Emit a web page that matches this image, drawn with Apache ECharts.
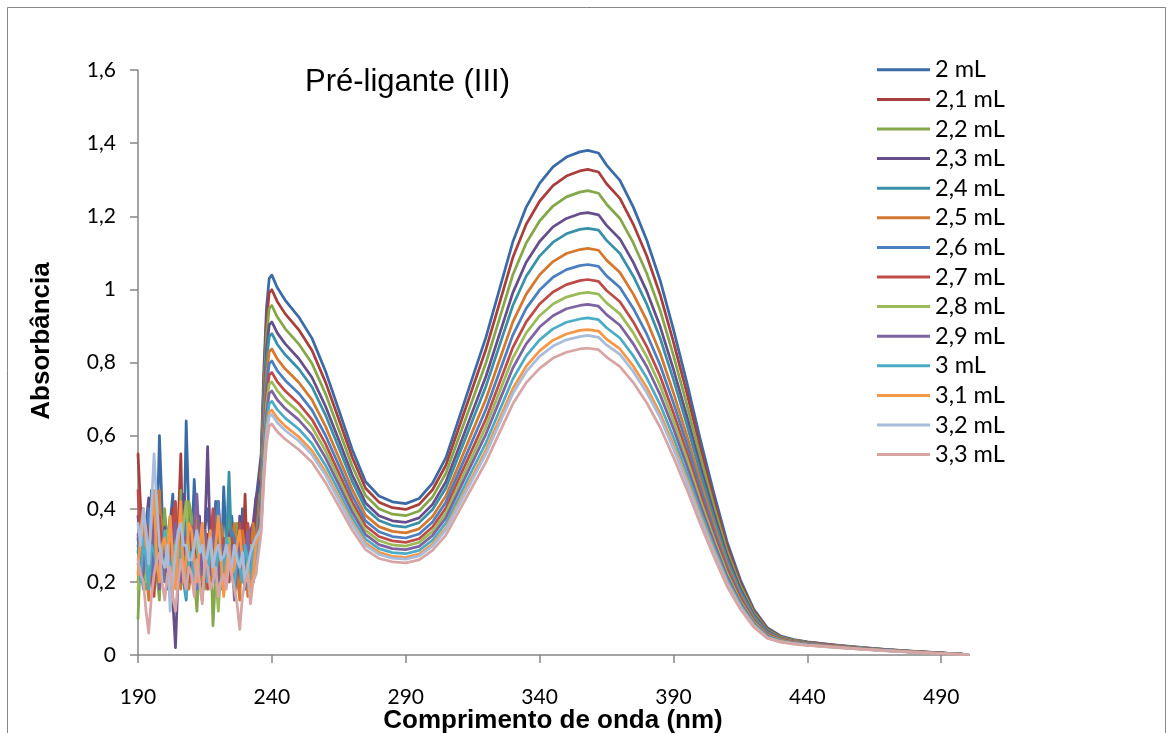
<!DOCTYPE html>
<html>
<head>
<meta charset="utf-8">
<script src="https://cdn.jsdelivr.net/npm/echarts@6/dist/echarts.min.js"></script>
<style>
  html, body { margin: 0; padding: 0; background: #fff; }
  #chart { width: 1173px; height: 733px; }
</style>
</head>
<body>
<div id="chart"></div>
<script>
// Wavelength grid (nm): noisy far-UV region every 1 nm, then the measured bands
const wavelengths = [190,191,192,193,194,195,196,197,198,199,200,201,202,203,204,205,206,207,208,209,210,211,212,
  213,214,215,216,217,218,219,220,221,222,223,224,225,226,227,228,229,230,231,232,233,234,
  236,237,238,239,240,242,245,250,255,260,265,270,275,280,285,290,295,300,305,310,315,320,325,330,335,340,345,350,355,
  358,362,365,370,375,380,385,390,395,400,405,410,415,420,425,430,435,440,450,460,470,480,490,500];

const xTicks = [190, 240, 290, 340, 390, 440, 490];

const seriesNames = ['2 mL','2,1 mL','2,2 mL','2,3 mL','2,4 mL','2,5 mL','2,6 mL','2,7 mL','2,8 mL','2,9 mL','3 mL','3,1 mL','3,2 mL','3,3 mL'];

const seriesColors = ['#3B6BA6','#A83F3D','#84A74A','#664E8A','#3990A9','#D5782F','#4A7FC0','#BF4B48','#9BBB59','#7F63A1','#4BACC6','#F79646','#A7BDDB','#D7A5A4'];

// Absorbance for each added volume (first 45 values: 190-234 nm, then the band region)
const abs_2_0 = [0.32,0.22,0.40,0.30,0.25,0.45,0.38,0.28,0.60,0.40,0.30,0.18,0.36,0.44,0.20,0.30,0.42,0.25,0.64,0.38,0.28,0.48,0.33,
  0.20,0.22,0.35,0.40,0.30,0.26,0.42,0.34,0.20,0.46,0.30,0.24,0.38,0.30,0.26,0.20,0.40,0.33,0.30,0.25,0.20,0.42,
  0.550,0.780,0.950,1.030,1.039,1.005,0.970,0.925,0.866,0.777,0.670,0.562,0.474,0.435,0.419,0.414,0.428,0.470,0.540,0.650,0.760,0.870,1.000,1.130,1.225,1.290,1.335,1.362,1.376,
  1.380,1.373,1.340,1.298,1.225,1.135,1.025,0.890,0.745,0.590,0.445,0.310,0.205,0.125,0.075,0.052,0.042,0.036,0.028,0.021,0.015,0.010,0.006,0.001];
const abs_2_1 = [0.55,0.40,0.30,0.22,0.20,0.34,0.42,0.30,0.28,0.20,0.38,0.30,0.18,0.40,0.26,0.35,0.55,0.20,0.35,0.28,0.20,0.36,0.40,
  0.22,0.15,0.30,0.33,0.20,0.27,0.35,0.42,0.28,0.22,0.30,0.36,0.24,0.18,0.36,0.30,0.25,0.44,0.20,0.26,0.32,0.38,
  0.529,0.750,0.914,0.991,0.999,0.967,0.933,0.890,0.833,0.747,0.645,0.541,0.456,0.418,0.403,0.398,0.412,0.452,0.519,0.625,0.731,0.837,0.962,1.087,1.178,1.241,1.284,1.310,1.324,
  1.328,1.321,1.289,1.249,1.178,1.092,0.986,0.856,0.717,0.568,0.428,0.298,0.197,0.120,0.072,0.050,0.041,0.035,0.027,0.020,0.015,0.010,0.006,0.001];
const abs_2_2 = [0.10,0.28,0.35,0.18,0.22,0.36,0.30,0.22,0.15,0.32,0.40,0.20,0.25,0.28,0.32,0.18,0.45,0.30,0.20,0.42,0.38,0.22,0.12,
  0.26,0.30,0.18,0.24,0.34,0.08,0.22,0.35,0.20,0.28,0.32,0.40,0.26,0.22,0.36,0.30,0.24,0.18,0.28,0.34,0.20,0.28,
  0.506,0.718,0.874,0.948,0.956,0.925,0.892,0.851,0.797,0.715,0.616,0.517,0.436,0.400,0.385,0.381,0.394,0.432,0.497,0.598,0.699,0.800,0.920,1.040,1.127,1.187,1.228,1.253,1.266,
  1.270,1.263,1.233,1.194,1.127,1.044,0.943,0.819,0.685,0.543,0.409,0.285,0.189,0.115,0.069,0.048,0.040,0.034,0.026,0.020,0.014,0.009,0.005,0.001];
const abs_2_3 = [0.38,0.30,0.25,0.36,0.43,0.22,0.30,0.40,0.22,0.30,0.35,0.20,0.28,0.15,0.02,0.22,0.33,0.44,0.40,0.30,0.26,0.20,0.30,
  0.38,0.20,0.34,0.57,0.30,0.24,0.20,0.36,0.28,0.18,0.26,0.30,0.36,0.26,0.20,0.38,0.30,0.22,0.28,0.34,0.36,0.43,
  0.482,0.684,0.833,0.903,0.911,0.881,0.851,0.811,0.759,0.681,0.588,0.493,0.416,0.381,0.367,0.363,0.375,0.412,0.474,0.570,0.667,0.763,0.877,0.991,1.074,1.131,1.171,1.194,1.207,
  1.210,1.204,1.175,1.138,1.074,0.995,0.899,0.781,0.653,0.517,0.390,0.272,0.180,0.110,0.066,0.046,0.039,0.033,0.026,0.019,0.014,0.009,0.005,0.001];
const abs_2_4 = [0.28,0.36,0.20,0.26,0.35,0.24,0.18,0.30,0.30,0.20,0.25,0.32,0.38,0.26,0.22,0.34,0.28,0.20,0.15,0.26,0.32,0.22,0.26,
  0.34,0.20,0.28,0.30,0.20,0.24,0.34,0.28,0.18,0.22,0.30,0.50,0.28,0.20,0.24,0.30,0.20,0.26,0.30,0.18,0.26,0.32,
  0.465,0.660,0.804,0.871,0.879,0.850,0.821,0.783,0.733,0.657,0.567,0.475,0.401,0.368,0.354,0.350,0.362,0.398,0.457,0.550,0.643,0.736,0.846,0.956,1.036,1.091,1.129,1.152,1.164,
  1.167,1.162,1.134,1.098,1.036,0.960,0.867,0.753,0.630,0.499,0.376,0.262,0.173,0.106,0.063,0.045,0.038,0.032,0.025,0.019,0.014,0.009,0.005,0.001];
const abs_2_5 = [0.20,0.28,0.38,0.24,0.15,0.34,0.30,0.38,0.45,0.26,0.22,0.30,0.28,0.20,0.35,0.26,0.18,0.36,0.30,0.18,0.24,0.30,0.40,
  0.28,0.20,0.34,0.26,0.20,0.33,0.26,0.18,0.36,0.30,0.24,0.22,0.30,0.36,0.22,0.15,0.34,0.28,0.16,0.20,0.36,0.30,
  0.443,0.629,0.766,0.830,0.837,0.810,0.782,0.746,0.698,0.626,0.540,0.453,0.382,0.351,0.338,0.334,0.345,0.379,0.435,0.524,0.613,0.701,0.806,0.911,0.987,1.040,1.076,1.098,1.109,
  1.112,1.107,1.080,1.046,0.987,0.915,0.826,0.717,0.600,0.476,0.359,0.250,0.165,0.101,0.060,0.044,0.037,0.032,0.025,0.018,0.013,0.009,0.005,0.001];
const abs_2_6 = [0.30,0.24,0.18,0.30,0.40,0.20,0.26,0.34,0.32,0.26,0.20,0.30,0.35,0.22,0.28,0.32,0.22,0.30,0.38,0.24,0.30,0.22,0.18,
  0.30,0.33,0.20,0.25,0.34,0.30,0.36,0.42,0.28,0.26,0.22,0.20,0.34,0.32,0.26,0.24,0.30,0.18,0.26,0.30,0.20,0.26,
  0.426,0.604,0.735,0.797,0.804,0.778,0.751,0.716,0.670,0.601,0.519,0.435,0.367,0.337,0.324,0.320,0.331,0.364,0.418,0.503,0.588,0.673,0.774,0.875,0.948,0.998,1.033,1.054,1.065,
  1.068,1.063,1.037,1.005,0.948,0.878,0.793,0.689,0.577,0.457,0.344,0.240,0.159,0.097,0.058,0.042,0.036,0.031,0.024,0.018,0.013,0.008,0.005,0.001];
const abs_2_7 = [0.45,0.30,0.22,0.36,0.32,0.20,0.16,0.28,0.38,0.30,0.26,0.20,0.30,0.36,0.42,0.24,0.20,0.32,0.28,0.20,0.35,0.28,0.22,
  0.34,0.30,0.24,0.18,0.30,0.40,0.28,0.24,0.20,0.32,0.26,0.20,0.32,0.28,0.24,0.36,0.28,0.22,0.36,0.30,0.20,0.24,
  0.409,0.580,0.707,0.766,0.773,0.748,0.722,0.688,0.644,0.578,0.498,0.418,0.353,0.324,0.312,0.308,0.318,0.350,0.402,0.484,0.565,0.647,0.744,0.841,0.911,0.960,0.993,1.013,1.024,
  1.027,1.022,0.997,0.966,0.911,0.844,0.763,0.662,0.554,0.439,0.331,0.231,0.153,0.093,0.056,0.041,0.035,0.030,0.024,0.018,0.013,0.008,0.005,0.001];
const abs_2_8 = [0.18,0.26,0.30,0.20,0.24,0.32,0.36,0.26,0.20,0.24,0.28,0.34,0.15,0.24,0.34,0.20,0.26,0.36,0.42,0.28,0.22,0.34,0.30,
  0.24,0.36,0.26,0.20,0.28,0.30,0.22,0.12,0.24,0.26,0.20,0.32,0.26,0.20,0.30,0.28,0.20,0.24,0.26,0.30,0.30,0.22,
  0.395,0.561,0.683,0.741,0.747,0.723,0.697,0.665,0.623,0.559,0.482,0.404,0.341,0.313,0.301,0.298,0.308,0.338,0.388,0.467,0.546,0.626,0.719,0.812,0.881,0.928,0.960,0.979,0.989,
  0.992,0.987,0.963,0.933,0.881,0.816,0.737,0.640,0.536,0.424,0.320,0.223,0.147,0.090,0.054,0.040,0.034,0.030,0.023,0.017,0.012,0.008,0.005,0.001];
const abs_2_9 = [0.33,0.26,0.22,0.34,0.28,0.22,0.40,0.28,0.18,0.26,0.30,0.20,0.24,0.30,0.36,0.26,0.20,0.28,0.32,0.22,0.26,0.36,0.44,
  0.30,0.22,0.34,0.28,0.22,0.34,0.26,0.20,0.28,0.30,0.20,0.25,0.30,0.15,0.24,0.32,0.20,0.26,0.34,0.22,0.28,0.30,
  0.382,0.542,0.660,0.716,0.722,0.698,0.674,0.643,0.602,0.540,0.466,0.391,0.329,0.302,0.291,0.288,0.297,0.327,0.375,0.452,0.528,0.605,0.695,0.785,0.851,0.897,0.928,0.947,0.956,
  0.959,0.954,0.931,0.902,0.851,0.789,0.712,0.619,0.518,0.410,0.309,0.215,0.142,0.087,0.052,0.039,0.033,0.029,0.023,0.017,0.012,0.008,0.005,0.001];
const abs_3_0 = [0.25,0.20,0.32,0.26,0.18,0.30,0.28,0.24,0.22,0.28,0.34,0.26,0.20,0.30,0.26,0.22,0.30,0.24,0.16,0.26,0.28,0.20,0.24,
  0.30,0.35,0.26,0.20,0.30,0.26,0.20,0.30,0.26,0.22,0.32,0.28,0.22,0.18,0.28,0.24,0.20,0.30,0.26,0.20,0.30,0.26,
  0.367,0.521,0.635,0.688,0.694,0.671,0.648,0.618,0.578,0.519,0.448,0.375,0.317,0.291,0.280,0.277,0.286,0.314,0.361,0.434,0.508,0.581,0.668,0.755,0.818,0.862,0.892,0.910,0.919,
  0.922,0.917,0.895,0.867,0.818,0.758,0.685,0.595,0.498,0.394,0.297,0.207,0.137,0.084,0.050,0.038,0.032,0.028,0.022,0.017,0.012,0.008,0.004,0.001];
const abs_3_1 = [0.22,0.34,0.40,0.30,0.28,0.36,0.45,0.26,0.20,0.30,0.32,0.24,0.38,0.26,0.18,0.30,0.42,0.20,0.26,0.36,0.34,0.26,0.20,
  0.30,0.36,0.24,0.28,0.34,0.22,0.30,0.38,0.26,0.16,0.24,0.30,0.22,0.24,0.30,0.34,0.26,0.20,0.24,0.16,0.22,0.30,
  0.355,0.503,0.613,0.664,0.670,0.648,0.626,0.597,0.559,0.501,0.432,0.362,0.306,0.281,0.270,0.267,0.276,0.303,0.348,0.419,0.490,0.561,0.645,0.729,0.790,0.832,0.861,0.878,0.888,
  0.890,0.886,0.864,0.837,0.790,0.732,0.661,0.574,0.481,0.381,0.287,0.200,0.132,0.081,0.048,0.037,0.031,0.027,0.022,0.016,0.012,0.008,0.004,0.001];
const abs_3_2 = [0.36,0.30,0.40,0.34,0.25,0.40,0.55,0.42,0.30,0.26,0.24,0.30,0.12,0.20,0.28,0.34,0.36,0.30,0.30,0.26,0.26,0.30,0.34,
  0.28,0.30,0.24,0.28,0.32,0.24,0.28,0.30,0.26,0.27,0.30,0.26,0.24,0.30,0.26,0.24,0.28,0.20,0.24,0.28,0.30,0.32,
  0.348,0.494,0.601,0.652,0.658,0.636,0.614,0.586,0.548,0.492,0.424,0.356,0.300,0.275,0.265,0.262,0.271,0.298,0.342,0.411,0.481,0.551,0.633,0.715,0.775,0.817,0.845,0.862,0.871,
  0.874,0.869,0.848,0.822,0.775,0.718,0.649,0.563,0.472,0.373,0.282,0.196,0.130,0.079,0.047,0.036,0.031,0.027,0.021,0.016,0.011,0.007,0.004,0.001];
const abs_3_3 = [0.26,0.22,0.20,0.12,0.06,0.16,0.22,0.26,0.28,0.20,0.15,0.22,0.24,0.16,0.12,0.20,0.26,0.22,0.18,0.24,0.22,0.16,0.26,
  0.20,0.14,0.26,0.24,0.18,0.20,0.24,0.16,0.20,0.22,0.18,0.26,0.22,0.18,0.14,0.07,0.16,0.20,0.22,0.14,0.20,0.22,
  0.334,0.474,0.578,0.626,0.632,0.611,0.590,0.562,0.527,0.472,0.407,0.342,0.288,0.264,0.255,0.252,0.260,0.286,0.328,0.395,0.462,0.529,0.608,0.687,0.745,0.784,0.812,0.828,0.837,
  0.839,0.835,0.815,0.789,0.745,0.690,0.623,0.541,0.453,0.359,0.271,0.188,0.125,0.076,0.046,0.035,0.030,0.026,0.021,0.016,0.011,0.007,0.004,0.001];

const absorbance = [abs_2_0, abs_2_1, abs_2_2, abs_2_3, abs_2_4, abs_2_5, abs_2_6, abs_2_7,
  abs_2_8, abs_2_9, abs_3_0, abs_3_1, abs_3_2, abs_3_3];

const axisGray = '#868686';
const labelFont = 'Lato, "Open Sans", sans-serif';
const titleFontBold = 'bold 26px "Liberation Sans", Arial, sans-serif';

const series = absorbance.map((vals, i) => ({
  name: seriesNames[i],
  type: 'line',
  data: wavelengths.map((w, j) => [w, vals[j]]),
  showSymbol: false,
  symbol: 'none',
  smooth: false,
  color: seriesColors[i],
  lineStyle: { width: 2.75, color: seriesColors[i], join: 'round', cap: 'round' },
  emphasis: { disabled: true },
  z: 2
}));

const chart = echarts.init(document.getElementById('chart'), null, { renderer: 'canvas' });
chart.setOption({
  animation: false,
  backgroundColor: '#fff',
  title: {
    text: 'Pré-ligante (III)',
    left: 305,
    top: 67,
    padding: 0,
    textStyle: { fontFamily: '"Liberation Sans", Arial, sans-serif', fontSize: 31, fontWeight: 'normal', color: '#000' }
  },
  graphic: [{
    type: 'rect',
    shape: { x: 7.5, y: 7.5, width: 1158, height: 740 },
    style: { fill: 'none', stroke: axisGray, lineWidth: 1 },
    silent: true
  }, {
    // y-axis title
    type: 'text',
    x: 42,
    y: 341,
    rotation: Math.PI / 2,
    style: { text: 'Absorbância', font: titleFontBold, fill: '#000', align: 'center', verticalAlign: 'middle' },
    silent: true
  }, {
    // x-axis title
    type: 'text',
    x: 553,
    y: 721,
    style: { text: 'Comprimento de onda (nm)', font: titleFontBold, fill: '#000', align: 'center', verticalAlign: 'middle' },
    silent: true
  }],
  grid: { left: 138, right: 205, top: 70, bottom: 78, containLabel: false, outerBoundsMode: 'none' },
  legend: {
    orient: 'vertical',
    left: 877,
    top: 55,
    padding: 0,
    itemGap: 0,
    itemWidth: 53,
    itemHeight: 3,
    icon: 'rect',
    data: seriesNames,
    textStyle: { fontFamily: labelFont, fontSize: 23.5, lineHeight: 29.6, color: '#000' }
  },
  xAxis: {
    type: 'value',
    min: 190,
    max: 500,
    axisLine: { show: true, onZero: false, lineStyle: { color: axisGray, width: 1.5 } },
    axisTick: { show: true, length: 8, lineStyle: { color: axisGray, width: 1.5 }, customValues: xTicks },
    axisLabel: { margin: 32, fontFamily: labelFont, fontSize: 21, color: '#000', customValues: xTicks },
    splitLine: { show: false }
  },
  yAxis: {
    type: 'value',
    min: 0,
    max: 1.6,
    interval: 0.2,
    axisLine: { show: true, lineStyle: { color: axisGray, width: 1.5 } },
    axisTick: { show: true, length: 8, lineStyle: { color: axisGray, width: 1.5 } },
    axisLabel: {
      margin: 22,
      fontFamily: labelFont,
      fontSize: 21,
      color: '#000',
      formatter: v => String(+v.toFixed(1)).replace('.', ',')
    },
    splitLine: { show: false }
  },
  series: series
});
</script>
</body>
</html>
